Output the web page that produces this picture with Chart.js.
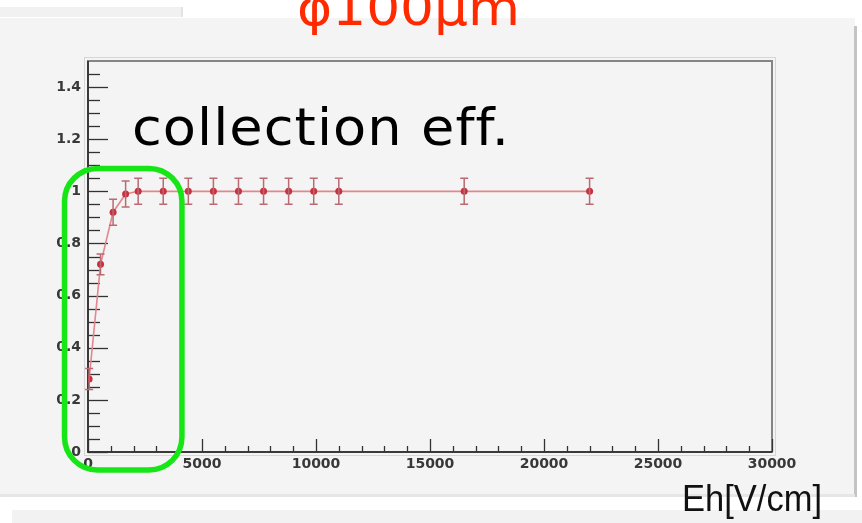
<!DOCTYPE html>
<html>
<head>
<meta charset="utf-8">
<script src="https://cdn.jsdelivr.net/npm/chart.js@4.4.1/dist/chart.umd.min.js"></script>
<style>
  html, body { margin: 0; padding: 0; background: #ffffff; }
  #wrap { width: 862px; height: 523px; }
</style>
</head>
<body>
<div id="wrap"><canvas id="effchart" width="862" height="523"></canvas></div>
<script>
// Data
const fieldValues = [50, 550, 1100, 1650, 2200, 3300, 4400, 5500, 6600, 7700, 8800, 9900, 11000, 16500, 22000];
const effValues   = [0.28, 0.72, 0.92, 0.99, 1.0, 1.0, 1.0, 1.0, 1.0, 1.0, 1.0, 1.0, 1.0, 1.0, 1.0];
const effErrors   = [0.04, 0.04, 0.05, 0.05, 0.05, 0.05, 0.05, 0.05, 0.05, 0.05, 0.05, 0.05, 0.05, 0.05, 0.05];
const xTicks = [0, 5000, 10000, 15000, 20000, 25000, 30000];
const yTicks = [0, 0.2, 0.4, 0.6, 0.8, 1, 1.2, 1.4];

const titleText = 'φ100μm';
const noteText = 'collection eff.';
const xAxisTitle = 'Eh[V/cm]';

// highlight box, in data units
const boxRange = {xMin: -1030, xMax: 4120, yMin: -0.069, yMax: 1.088};

// Styles
const panelGray = '#f4f4f4';
const lineRed = '#e3868e';
const markRed = '#c8303e';
const errColor = '#b96a73';
const boxGreen = '#16e516';
const tickFont = {family: 'DejaVu Sans', weight: 'bold', size: 14};

const ctx = document.getElementById('effchart');

// draw text squeezed/stretched to a given width
function fitText(c, text, x, baseline, width, font, color, spacing) {
    c.save();
    c.font = font;
    c.fillStyle = color;
    c.textBaseline = 'alphabetic';
    c.textAlign = 'left';
    c.letterSpacing = spacing || '0px';
    const w = c.measureText(text).width;
    c.translate(x, baseline);
    c.scale(width / w, 1);
    c.fillText(text, 0, 0);
    c.restore();
}

// Background panels + title
const rootCanvas = {
    id: 'rootCanvas',
    beforeDraw(chart) {
        const c = chart.ctx;
        c.save();
        c.fillStyle = '#ffffff';
        c.fillRect(0, 0, chart.width, chart.height);

        // strip of a panel above
        c.fillStyle = '#f1f1f1';
        c.fillRect(0, 7, 183, 10);
        c.fillStyle = '#e2e2e2';
        c.fillRect(181, 7, 2, 10);

        // main panel
        c.fillStyle = panelGray;
        c.fillRect(0, 18, 855, 479);
        c.fillStyle = '#c4c4c4';
        c.fillRect(854, 26, 3, 471);
        c.fillStyle = '#e6e6e6';
        c.fillRect(0, 494, 855, 3);

        // strip of the panel below
        c.fillStyle = '#f2f2f2';
        c.fillRect(12, 510, 850, 13);

        fitText(c, titleText, 297, 25, 223, '50px "DejaVu Sans"', '#ff2a00');
        c.restore();
    }
};

// Frame, inward ticks, error bars
const rootFrame = {
    id: 'rootFrame',
    beforeDatasetsDraw(chart) {
        const c = chart.ctx;
        const {left, top, right, bottom} = chart.chartArea;
        const xs = chart.scales.x;
        const ys = chart.scales.y;
        c.save();
        // frame shadow + frame
        c.strokeStyle = '#d6d6d6';
        c.lineWidth = 1;
        c.strokeRect(left - 3.5, top - 3.5, right - left + 7, bottom - top + 7);
        c.strokeStyle = '#858585';
        c.lineWidth = 2;
        c.strokeRect(left, top, right - left, bottom - top);

        // axes
        c.strokeStyle = '#222222';
        c.lineWidth = 1.5;
        c.beginPath();
        c.moveTo(left, top);
        c.lineTo(left, bottom);
        c.lineTo(right, bottom);
        c.stroke();

        // x ticks, pointing up
        c.strokeStyle = '#333333';
        c.lineWidth = 1.3;
        for (let v = 0; v <= xs.max; v += 1000) {
            const px = Math.round(xs.getPixelForValue(v)) + 0.5;
            const len = (v % 5000 === 0) ? 13 : 6;
            c.beginPath();
            c.moveTo(px, bottom);
            c.lineTo(px, bottom - len);
            c.stroke();
        }
        // y ticks, pointing right
        for (let i = 0; i <= 29; i++) {
            const v = i * 0.05;
            const py = Math.round(ys.getPixelForValue(v)) + 0.5;
            const len = (i % 4 === 0) ? 20 : 12;
            c.beginPath();
            c.moveTo(left, py);
            c.lineTo(left + len, py);
            c.stroke();
        }

        c.restore();
    },
    afterDatasetsDraw(chart) {
        const c = chart.ctx;
        const xs = chart.scales.x;
        const ys = chart.scales.y;
        c.save();
        c.strokeStyle = errColor;
        c.lineWidth = 1.5;
        fieldValues.forEach((e, i) => {
            const px = xs.getPixelForValue(e);
            const y1 = ys.getPixelForValue(effValues[i] - effErrors[i]);
            const y2 = ys.getPixelForValue(effValues[i] + effErrors[i]);
            c.beginPath();
            c.moveTo(px, y1);
            c.lineTo(px, y2);
            c.moveTo(px - 4, y1);
            c.lineTo(px + 4, y1);
            c.moveTo(px - 4, y2);
            c.lineTo(px + 4, y2);
            c.stroke();
        });
        c.restore();
    }
};

// Annotations drawn over the plot
const overlays = {
    id: 'overlays',
    afterDraw(chart) {
        const c = chart.ctx;
        const xs = chart.scales.x;
        const ys = chart.scales.y;
        c.save();
        fitText(c, noteText, 132, 145, 378, '52px "DejaVu Sans"', '#000000', '1px');
        fitText(c, xAxisTitle, 682, 511, 140, '37px "Liberation Sans"', '#111111');

        const bx = xs.getPixelForValue(boxRange.xMin);
        const bx2 = xs.getPixelForValue(boxRange.xMax);
        const by = ys.getPixelForValue(boxRange.yMax);
        const by2 = ys.getPixelForValue(boxRange.yMin);
        c.strokeStyle = boxGreen;
        c.lineWidth = 5.5;
        c.beginPath();
        c.roundRect(bx, by, bx2 - bx, by2 - by, 33);
        c.stroke();
        c.restore();
    }
};

const data = {
    datasets: [{
        label: 'collection eff.',
        data: fieldValues.map((e, i) => ({x: e, y: effValues[i]})),
        showLine: true,
        borderColor: lineRed,
        borderWidth: 1.6,
        pointRadius: 3.5,
        pointBackgroundColor: markRed,
        pointBorderWidth: 0,
        fill: false,
    }]
};

const config = {
    type: 'scatter',
    data: data,
    plugins: [rootCanvas, rootFrame, overlays],
    options: {
        responsive: false,
        animation: false,
        layout: {
            padding: {left: 0, right: 90, top: 61, bottom: 0}
        },
        plugins: {
            legend: {display: false},
            title: {display: false},
            tooltip: {enabled: false},
        },
        scales: {
            x: {
                type: 'linear',
                min: 0,
                max: 30000,
                grid: {display: false, drawTicks: false},
                border: {display: false},
                afterFit(scale) { scale.height = 71; },
                afterBuildTicks(scale) { scale.ticks = xTicks.map(v => ({value: v})); },
                ticks: {
                    padding: 4,
                    maxRotation: 0,
                    autoSkip: false,
                    color: '#383838',
                    font: tickFont,
                    callback: function (value) { return String(value); },
                },
            },
            y: {
                type: 'linear',
                min: 0,
                max: 1.5,
                grid: {display: false, drawTicks: false},
                border: {display: false},
                afterFit(scale) { scale.width = 88; },
                afterBuildTicks(scale) { scale.ticks = yTicks.map(v => ({value: v})); },
                ticks: {
                    padding: 7,
                    autoSkip: false,
                    color: '#383838',
                    font: tickFont,
                    callback: function (value) { return String(value); },
                },
            },
        },
    },
};

const effChart = new Chart(ctx, config);
</script>
</body>
</html>
